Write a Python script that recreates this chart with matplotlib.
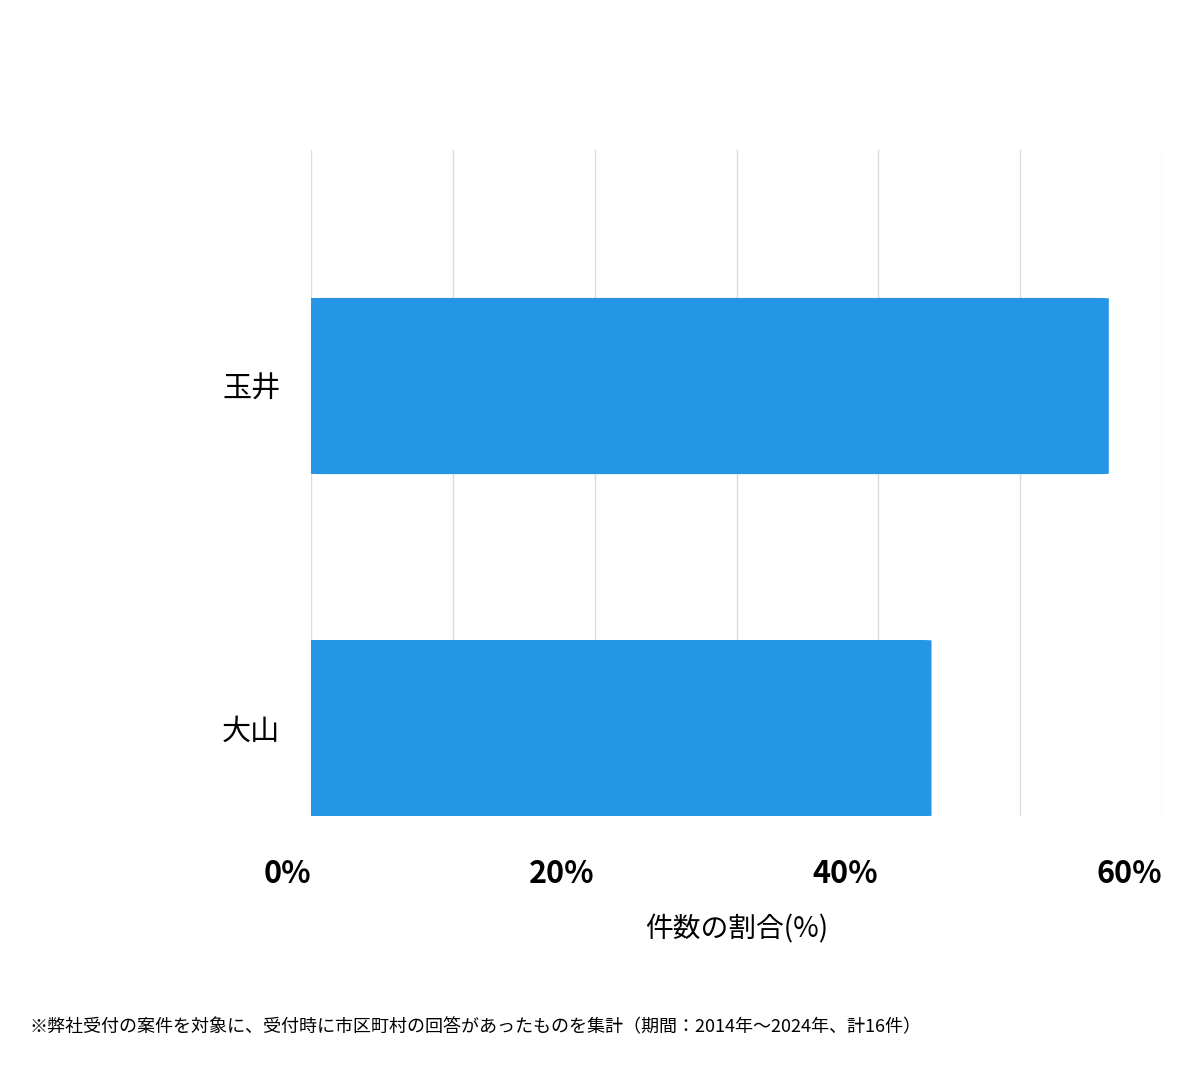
import matplotlib
matplotlib.use("Agg")
import matplotlib.pyplot as plt
from matplotlib.patches import FancyBboxPatch

plt.rcParams['font.family'] = ['Noto Sans CJK JP', 'DejaVu Sans']

categories = ['大山', '玉井']
values = [43.75, 56.25]
xticks = [0, 20, 40, 60]
xticklabels = ['0%', '20%', '40%', '60%']

fig = plt.figure(figsize=(12, 10.69), dpi=100)
ax = fig.add_axes([311/1200, 1-816/1069, 851/1200, 666/1069])
color = '#2596E6'
h = 0.515
for i, v in enumerate(values):
    ax.barh(i, v - 0.8, height=h, color=color, zorder=2)
    p = FancyBboxPatch((0, i - h/2), v, h, boxstyle="round,pad=0,rounding_size=0.8",
                       mutation_aspect=0.515/176*9/ (0.8) * 0.8 / (142/10) * 1.0 * 1,
                       color=color, zorder=2, linewidth=0)
    ax.add_patch(p)

ax.set_xlim(0, 60)
ax.set_ylim(-0.257, 1.69)
for g in range(0, 61, 10):
    ax.axvline(g, color='#dddddd', lw=1, zorder=0)
for s in ax.spines.values():
    s.set_visible(False)
ax.set_yticks(range(len(categories)))
ax.set_yticklabels(categories, fontsize=21)
ax.set_xticks(xticks)
ax.set_xticklabels(xticklabels, fontsize=22, fontweight='bold', ha='right')
ax.tick_params(length=0)
ax.tick_params(axis='x', pad=30)
ax.tick_params(axis='y', pad=22)
ax.set_xlabel('件数の割合(%)', fontsize=20, labelpad=18)
fig.text(30/1200, 1-1027/1069, '※弊社受付の案件を対象に、受付時に市区町村の回答があったものを集計（期間：2014年～2024年、計16件）',
         fontsize=13, va='center', ha='left')
fig.savefig('out.png', dpi=100, facecolor='white')
